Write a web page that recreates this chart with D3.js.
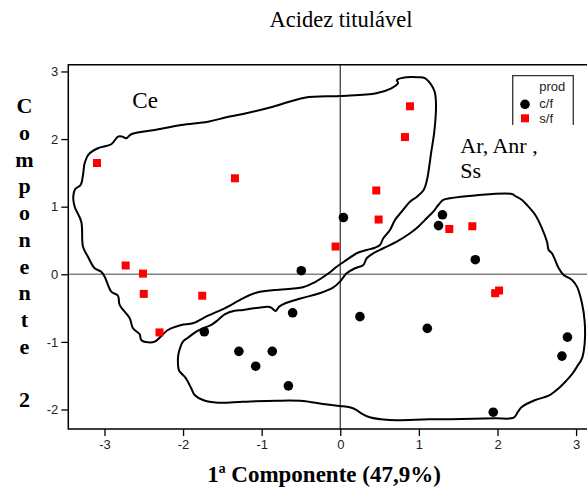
<!DOCTYPE html>
<html>
<head>
<meta charset="utf-8">
<script src="https://cdn.jsdelivr.net/npm/d3@7"></script>
<style>
  body { margin: 0; background: #fff; }
  svg { display: block; }
  .tick text { font-family: 'Liberation Sans', Arial, sans-serif; font-size: 13px; fill: #222; }
</style>
</head>
<body>
<script>
const WIDTH = 587;
const HEIGHT = 488;

// scores on the first two components
const cfX = [0.04, 1.30, 1.25, -1.73, -1.29, -0.865, -1.076, -0.66, -0.606, -0.496, 1.718, 0.25, 1.107, 2.89, 2.82, 1.946];
const cfY = [0.84, 0.88, 0.72, -0.85, -1.14, -1.14, -1.36, -1.65, -0.57, 0.053, 0.216, -0.627, -0.80, -0.93, -1.21, -2.04];

const sfX = [-3.095, -1.34, 0.887, 0.823, 0.458, 0.488, 1.387, 1.68, -0.06, -2.73, -2.51, -2.50, -1.756, -2.30, 1.97, 2.02];
const sfY = [1.646, 1.42, 2.485, 2.03, 1.24, 0.81, 0.67, 0.71, 0.41, 0.13, 0.01, -0.29, -0.317, -0.86, -0.28, -0.24];

const xTicks = [-3, -2, -1, 0, 1, 2, 3];
const yTicks = [-2, -1, 0, 1, 2, 3];

const legendTitle = 'prod';
const legendLabels = ['c/f', 's/f'];

// hand drawn group outlines, in component units
const groupCe = [
  [-3.210, 0.260], [-3.273, 0.408], [-3.295, 0.778], [-3.379, 1.000], [-3.397, 1.148],
  [-3.372, 1.262], [-3.303, 1.321], [-3.273, 1.469], [-3.252, 1.642], [-3.201, 1.775],
  [-3.083, 1.864], [-2.913, 1.923], [-2.828, 2.036], [-2.774, 2.036], [-2.723, 2.012],
  [-2.659, 2.071], [-2.361, 2.135], [-2.023, 2.209], [-1.683, 2.257], [-1.450, 2.322],
  [-1.238, 2.371], [-0.856, 2.479], [-0.453, 2.612], [-0.008, 2.638], [0.458, 2.678],
  [0.649, 2.751], [0.734, 2.825], [0.721, 2.874], [0.840, 2.914], [0.989, 2.914],
  [1.081, 2.899], [1.145, 2.825], [1.201, 2.701], [1.218, 2.504], [1.196, 2.109],
  [1.158, 1.814], [1.103, 1.395], [1.061, 1.247], [0.976, 1.148], [0.887, 1.074],
  [0.781, 0.926], [0.696, 0.803], [0.632, 0.655], [0.547, 0.533], [0.505, 0.433],
  [0.441, 0.393], [0.336, 0.359], [0.209, 0.311], [0.081, 0.212], [-0.046, 0.112],
  [-0.131, 0.030], [-0.326, -0.118], [-0.475, -0.192], [-0.835, -0.232], [-1.069, -0.272],
  [-1.238, -0.355], [-1.471, -0.503], [-1.683, -0.612], [-1.874, -0.725], [-2.023, -0.750],
  [-2.192, -0.824], [-2.361, -0.997], [-2.447, -1.006], [-2.532, -0.972], [-2.552, -0.888],
  [-2.637, -0.799], [-2.679, -0.651], [-2.807, -0.454], [-2.828, -0.317], [-2.913, -0.257],
  [-2.997, -0.036], [-3.041, 0.038], [-3.125, 0.089]
];

const groupAr = [
  [-2.065, -1.243], [-2.052, -1.145], [-2.001, -0.997], [-1.938, -0.938], [-1.832, -0.849],
  [-1.725, -0.790], [-1.641, -0.750], [-1.556, -0.676], [-1.471, -0.592], [-1.344, -0.538],
  [-1.238, -0.528], [-0.920, -0.479], [-0.878, -0.494], [-0.822, -0.543], [-0.780, -0.479],
  [-0.729, -0.444], [-0.496, -0.355], [-0.262, -0.281], [-0.093, -0.198], [-0.004, -0.109],
  [0.081, 0.015], [0.187, 0.089], [0.293, 0.138], [0.336, 0.237], [0.420, 0.311],
  [0.547, 0.385], [0.718, 0.482], [0.887, 0.607], [0.992, 0.704], [1.099, 0.828],
  [1.183, 0.926], [1.247, 1.025], [1.310, 1.099], [1.396, 1.124], [2.184, 1.188],
  [2.226, 1.158], [2.312, 1.099], [2.375, 1.025], [2.481, 0.877], [2.566, 0.680],
  [2.630, 0.482], [2.651, 0.359], [2.693, 0.311], [2.779, 0.089], [2.842, -0.010],
  [2.948, -0.084], [3.011, -0.183], [3.075, -0.429], [3.109, -0.701], [3.109, -1.021],
  [3.075, -1.243], [3.011, -1.367], [2.957, -1.464], [2.863, -1.589], [2.779, -1.686],
  [2.651, -1.796], [2.481, -1.859], [2.312, -1.959], [2.261, -2.033], [2.206, -2.121],
  [1.972, -2.130], [1.548, -2.141], [1.125, -2.145], [0.628, -2.155], [0.374, -2.115],
  [0.267, -2.056], [0.204, -2.007], [0.120, -1.967], [-0.008, -1.948], [-0.220, -1.919],
  [-0.475, -1.874], [-0.814, -1.870], [-1.238, -1.885], [-1.556, -1.899], [-1.747, -1.859],
  [-1.852, -1.785], [-1.896, -1.686], [-1.938, -1.589], [-1.980, -1.515], [-2.023, -1.464],
  [-2.052, -1.420]
];

const xScale = d3.scaleLinear().domain([-3.46, 3.14]).range([68.3, 587.1]);
const yScale = d3.scaleLinear().domain([-2.29, 3.1]).range([429.1, 64.7]);

const svg = d3.select('body')
  .append('svg')
  .attr('width', WIDTH)
  .attr('height', HEIGHT);

const [x0, x1] = xScale.range();
const [y0, y1] = yScale.range();

// zero reference lines
svg.append('line')
  .attr('x1', x0).attr('x2', x1)
  .attr('y1', yScale(0)).attr('y2', yScale(0))
  .attr('stroke', '#808080').attr('stroke-width', 1.5);

svg.append('line')
  .attr('x1', xScale(0)).attr('x2', xScale(0))
  .attr('y1', y1).attr('y2', y0)
  .attr('stroke', '#444').attr('stroke-width', 1.3);

// group outlines
const outline = d3.line()
  .x(d => xScale(d[0]))
  .y(d => yScale(d[1]))
  .curve(d3.curveCatmullRomClosed.alpha(0.5));

svg.selectAll('path.group')
  .data([groupCe, groupAr])
  .enter()
  .append('path')
  .attr('class', 'group')
  .attr('d', outline)
  .attr('fill', 'none')
  .attr('stroke', '#000')
  .attr('stroke-width', 2);

// frame
svg.append('path')
  .attr('d', `M${x1},${y1}H${x0}V${y0}H${x1}`)
  .attr('fill', 'none')
  .attr('stroke', '#000')
  .attr('stroke-width', 1.5);

const xAxis = d3.axisBottom(xScale)
  .tickValues(xTicks)
  .tickSize(7)
  .tickPadding(4)
  .tickFormat(d => String(d));

const yAxis = d3.axisLeft(yScale)
  .tickValues(yTicks)
  .tickSize(7)
  .tickPadding(3)
  .tickFormat(d => String(d));

svg.append('g')
  .attr('transform', 'translate(0,' + y0 + ')')
  .call(xAxis)
  .call(g => g.select('.domain').remove());

svg.append('g')
  .attr('transform', 'translate(' + x0 + ',0)')
  .call(yAxis)
  .call(g => g.select('.domain').remove());

svg.selectAll('.tick line').attr('stroke', '#000').attr('stroke-width', 1.3);

// points
svg.selectAll('circle.cf')
  .data(cfX)
  .enter()
  .append('circle')
  .attr('class', 'cf')
  .attr('cx', d => xScale(d))
  .attr('cy', (d, i) => yScale(cfY[i]))
  .attr('r', 4.8)
  .attr('fill', '#000');

svg.selectAll('rect.sf')
  .data(sfX)
  .enter()
  .append('rect')
  .attr('class', 'sf')
  .attr('x', d => xScale(d) - 4)
  .attr('y', (d, i) => yScale(sfY[i]) - 4)
  .attr('width', 8)
  .attr('height', 8)
  .attr('fill', '#ff0000');

// legend
const legend = svg.append('g').attr('id', 'legend');

legend.append('path')
  .attr('d', 'M512.7,130V75.7H573.3V130')
  .attr('fill', 'none')
  .attr('stroke', '#333')
  .attr('stroke-width', 1.3);

legend.append('text')
  .attr('x', 539.3).attr('y', 91)
  .style('font-family', "'Liberation Sans', Arial, sans-serif")
  .style('font-size', '13px')
  .attr('fill', '#222')
  .text(legendTitle);

legend.append('circle')
  .attr('cx', 525).attr('cy', 104.3).attr('r', 4.8).attr('fill', '#000');

legend.append('rect')
  .attr('x', 521).attr('y', 114.3).attr('width', 8).attr('height', 8).attr('fill', '#ff0000');

legend.selectAll('text.item')
  .data(legendLabels)
  .enter()
  .append('text')
  .attr('class', 'item')
  .attr('x', 539.3)
  .attr('y', (d, i) => 108 + i * 14.5)
  .style('font-family', "'Liberation Sans', Arial, sans-serif")
  .style('font-size', '13px')
  .attr('fill', '#222')
  .text(d => d);

// group labels
svg.append('rect')
  .attr('x', 452).attr('y', 125).attr('width', 128).attr('height', 62)
  .attr('fill', '#fff');

const serif = "'Liberation Serif', 'Times New Roman', serif";

svg.append('text')
  .attr('x', 460.3).attr('y', 153.3)
  .style('font-family', serif).style('font-size', '22px')
  .text('Ar, Anr ,');

svg.append('text')
  .attr('x', 460.3).attr('y', 178.3)
  .style('font-family', serif).style('font-size', '22px')
  .text('Ss');

svg.append('text')
  .attr('x', 132.3).attr('y', 108.3)
  .style('font-family', serif).style('font-size', '23px')
  .text('Ce');

// titles
svg.append('text')
  .attr('x', 341).attr('y', 27)
  .attr('text-anchor', 'middle')
  .style('font-family', serif).style('font-size', '22.5px')
  .text('Acidez titulável');

svg.append('text')
  .attr('x', 324).attr('y', 482)
  .attr('text-anchor', 'middle')
  .style('font-family', serif).style('font-size', '23px').style('font-weight', 'bold')
  .text('1ª Componente (47,9%)');

const yLetters = 'Componente 2'.split('');
svg.append('text')
  .attr('text-anchor', 'middle')
  .style('font-family', serif).style('font-size', '22px').style('font-weight', 'bold')
  .selectAll('tspan')
  .data(yLetters)
  .enter()
  .append('tspan')
  .attr('x', 24.5)
  .attr('y', (d, i) => 113.3 + i * 26.7)
  .text(d => d);
</script>
</body>
</html>
